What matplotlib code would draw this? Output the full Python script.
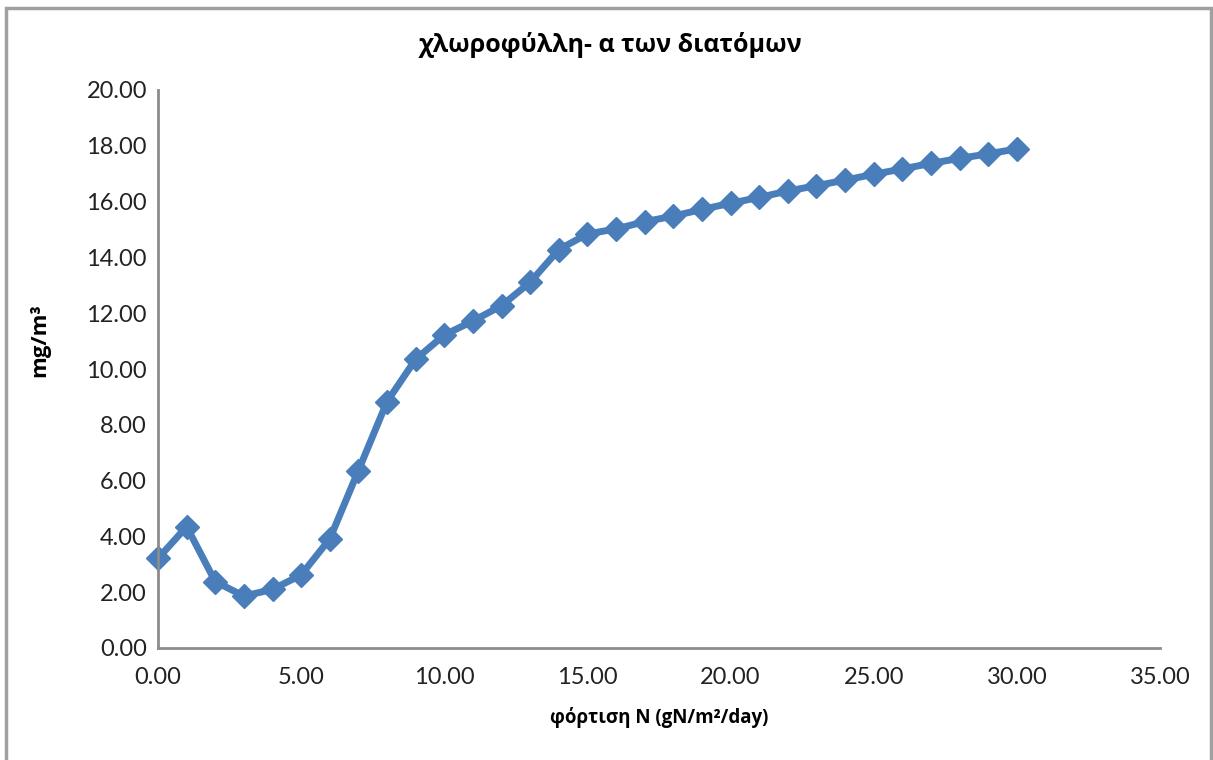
import matplotlib
matplotlib.use('Agg')
from matplotlib import pyplot as plt
from matplotlib.patches import Rectangle
import numpy as np

#################################
# Data
load_N = np.arange(0, 31, 1)
chl_a = [3.21, 4.35, 2.38, 1.86, 2.10, 2.62, 3.91, 6.36, 8.83, 10.35,
         11.22, 11.72, 12.27, 13.11, 14.28, 14.84, 15.02, 15.28, 15.48, 15.72,
         15.94, 16.15, 16.38, 16.57, 16.77, 16.98, 17.17, 17.37, 17.55, 17.71,
         17.89]
x_ticks = np.arange(0, 36, 5)
y_ticks = np.arange(0, 21, 2)
title = 'χλωροφύλλη- α των διατόμων'
x_label = 'φόρτιση N (gN/m²/day)'
y_label = 'mg/m³'
#################################

plt.rcParams['font.family'] = ['Lato', 'DejaVu Sans']
lbl_font = ['Open Sans', 'DejaVu Sans']

line_col = '#4a7ebb'
tk_fs = 17

fig = plt.figure(figsize=[12.13, 7.6], dpi=100)
ax = fig.add_axes([158/1213, 1 - 648/760, (1160 - 158)/1213, (648 - 90)/760])

ax.plot(load_N, chl_a, color=line_col, lw=5, marker='D', ms=12.5,
        mfc=line_col, mec=line_col, solid_joinstyle='round', clip_on=False)

ax.set_xlim(0, 35)
ax.set_ylim(0, 20)
ax.set_xticks(x_ticks)
ax.set_yticks(y_ticks)
ax.set_xticklabels(['%.2f' % v for v in x_ticks])
ax.set_yticklabels(['%.2f' % v for v in y_ticks])
ax.tick_params(axis='both', length=0, labelsize=tk_fs, colors='#222222')
ax.tick_params(axis='x', pad=14)
ax.tick_params(axis='y', pad=8)

for s in ['top', 'right']:
    ax.spines[s].set_visible(False)
for s in ['left', 'bottom']:
    ax.spines[s].set_color('#8c8c8c')
    ax.spines[s].set_linewidth(2)

fig.text(610/1213, 1 - 45/760, title, ha='center', va='center',
         fontsize=18, fontweight='bold', family=lbl_font)
fig.text(659/1213, 1 - 718/760, x_label, ha='center', va='center',
         fontsize=13.5, fontweight='bold', family=lbl_font)
fig.text(40/1213, 1 - 340/760, y_label, ha='center', va='center',
         fontsize=16, fontweight='bold', family=lbl_font, rotation=90)

# outer chart frame
fig.patches.append(Rectangle((6/1213, -0.05), (1211 - 6)/1213, 1 - 8/760 + 0.05,
                             transform=fig.transFigure, fill=False,
                             edgecolor='#a0a0a0', lw=2.5))

plt.savefig('out.png', dpi=100)
